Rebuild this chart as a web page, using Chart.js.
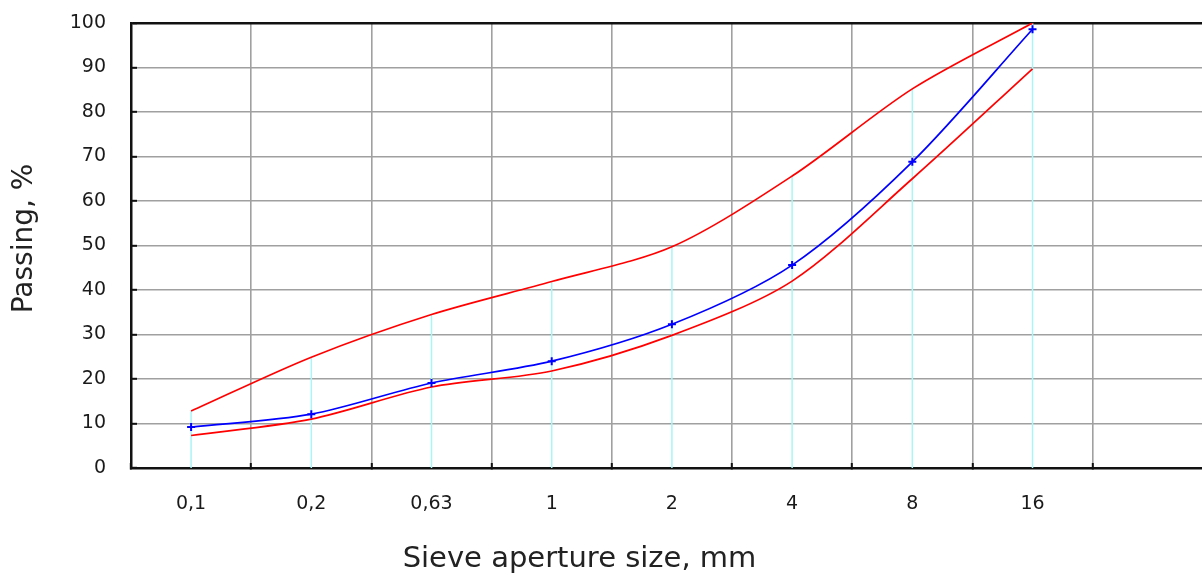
<!DOCTYPE html>
<html>
<head>
<meta charset="utf-8">
<script src="https://cdn.jsdelivr.net/npm/chart.js@4/dist/chart.umd.min.js"></script>
<style>
  html, body { margin: 0; padding: 0; background: #ffffff; }
  #wrap { width: 1202px; height: 573px; }
</style>
</head>
<body>
<div id="wrap"><canvas id="c" width="1202" height="573"></canvas></div>
<script>
// Sieve apertures (category labels, mm)
const categories = ['0,1', '0,2', '0,63', '1', '2', '4', '8', '16'];
// Measured grading curve (blue, with markers), % passing
const passingSample = [9.2, 12.1, 19.1, 24.0, 32.3, 45.6, 68.8, 98.6];
// Upper grading limit (red), % passing
const upperLimit = [12.8, 24.9, 34.5, 41.9, 49.7, 65.6, 85.2, 100];
// Lower grading limit (red), % passing
const lowerLimit = [7.3, 11.0, 18.2, 21.8, 29.8, 42.0, 65.0, 89.7];

const yTitle = 'Passing, %';
const xTitle = 'Sieve aperture size, mm';

const slotCount = 8.91; // visible category slots across the plot width

const toPoints = arr => arr.map((v, i) => ({ x: i + 0.5, y: v }));
const dropLines = upperLimit.flatMap((v, i) => [
  { x: i + 0.5, y: 0 }, { x: i + 0.5, y: v }, { x: i + 0.5, y: null }
]);

const FONT = "'DejaVu Sans', sans-serif";

new Chart(document.getElementById('c'), {
  type: 'line',
  data: {
    datasets: [
      {
        label: 'Sample',
        data: toPoints(passingSample),
        borderColor: '#0000ff',
        backgroundColor: '#0000ff',
        borderWidth: 1.7,
        tension: 0.3,
        pointStyle: 'cross',
        pointRadius: 4,
        pointBorderWidth: 2,
        pointBorderColor: '#0000ff'
      },
      {
        label: 'Upper limit',
        data: toPoints(upperLimit),
        borderColor: '#ff0000',
        borderWidth: 1.7,
        tension: 0.3,
        pointRadius: 0
      },
      {
        label: 'Lower limit',
        data: toPoints(lowerLimit),
        borderColor: '#ff0000',
        borderWidth: 1.7,
        tension: 0.3,
        pointRadius: 0
      },
      {
        label: 'drops',
        data: dropLines,
        borderColor: 'rgb(170,245,245)',
        borderWidth: 1.5,
        tension: 0,
        spanGaps: false,
        pointRadius: 0
      }
    ]
  },
  options: {
    responsive: false,
    animation: false,
    devicePixelRatio: 1,
    layout: { autoPadding: false, padding: { top: 23, left: 0, right: 0, bottom: 0 } },
    plugins: {
      legend: { display: false },
      tooltip: { enabled: false }
    },
    scales: {
      x: {
        type: 'linear',
        min: 0,
        max: slotCount,
        afterFit: s => { s.height = 105; s.paddingLeft = 0; s.paddingRight = 0; },
        border: { display: true, color: '#111', width: 2.5 },
        grid: {
          color: c => (c.tick && Number.isInteger(c.tick.value) && c.tick.value > 0) ? '#a0a0a0' : 'rgba(0,0,0,0)',
          lineWidth: 1.6,
          drawTicks: true,
          tickLength: -5,
          tickColor: c => (c.tick && Number.isInteger(c.tick.value)) ? '#111' : 'rgba(0,0,0,0)',
          tickWidth: 2
        },
        ticks: {
          stepSize: 0.5,
          autoSkip: false,
          maxRotation: 0,
          padding: 30,
          color: '#1a1a1a',
          font: { family: FONT, size: 19 },
          callback: v => (Math.abs(v % 1 - 0.5) < 1e-6 && categories[Math.floor(v)]) ? categories[Math.floor(v)] : ''
        },
        title: {
          display: true,
          text: xTitle + '\u2003\u2003\u2003\u2003\u2003\u2003',
          color: '#222',
          font: { family: FONT, size: 29, weight: 'normal' },
          padding: { top: 0, bottom: -4 }
        }
      },
      y: {
        min: 0,
        max: 100,
        afterFit: s => { s.width = 131; s.paddingTop = 0; s.paddingBottom = 0; },
        border: { display: true, color: '#111', width: 2.5 },
        grid: {
          color: c => (c.tick && c.tick.value === 100) ? '#111' : '#a0a0a0',
          lineWidth: c => (c.tick && c.tick.value === 100) ? 2.5 : 1.6,
          drawTicks: true,
          tickLength: -6,
          tickColor: c => (c.tick && c.tick.value % 10 === 0) ? '#111' : 'rgba(0,0,0,0)',
          tickWidth: 2
        },
        ticks: {
          stepSize: 5,
          padding: 31,
          color: '#1a1a1a',
          font: { family: FONT, size: 19 },
          callback: v => (v % 10 === 0) ? String(v) : ''
        },
        title: {
          display: true,
          text: '\u2002' + yTitle,
          color: '#222',
          font: { family: FONT, size: 28, weight: 'normal' },
          padding: { top: 8, bottom: 0 }
        }
      }
    }
  }
});
</script>
</body>
</html>
